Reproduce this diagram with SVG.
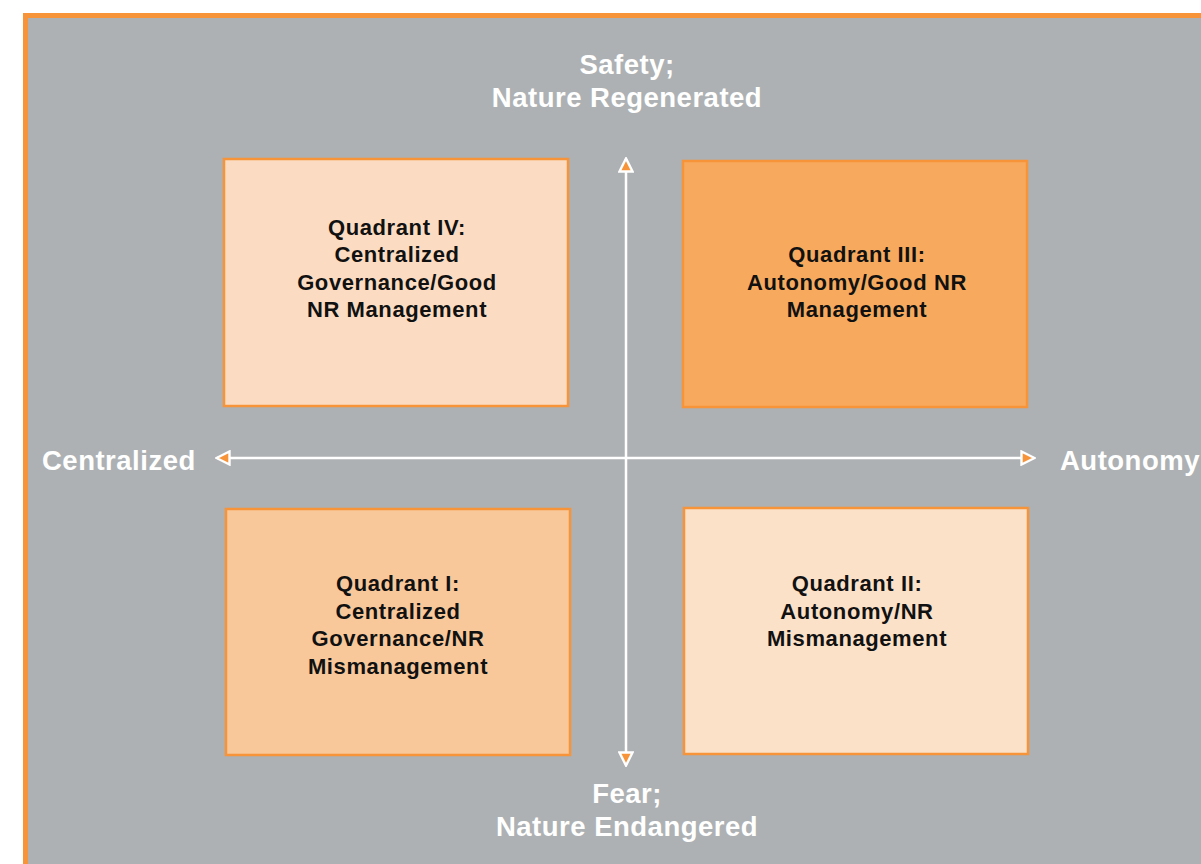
<svg xmlns="http://www.w3.org/2000/svg" width="1201" height="864" viewBox="0 0 1201 864">
<style>
.box{stroke:#F7943A;stroke-width:2.5}
.bt{font-family:"Liberation Sans",Arial,sans-serif;font-weight:bold;font-size:22px;letter-spacing:0.6px;fill:#111;text-anchor:middle}
.ax{font-family:"Liberation Sans",Arial,sans-serif;font-weight:bold;font-size:27.5px;letter-spacing:0.5px;fill:#ffffff}
.axl{stroke:#ffffff;stroke-width:2.5;fill:none}
</style>
<defs>
<marker id="ah" viewBox="0 0 16 16" refX="14" refY="8" markerWidth="16" markerHeight="16" markerUnits="userSpaceOnUse" orient="auto-start-reverse">
<path d="M1.5,1.5 L14.5,8 L1.5,14.5 Z" fill="#F7943A" stroke="#ffffff" stroke-width="2.4" stroke-linejoin="miter"/>
</marker>
</defs>
<rect x="0" y="0" width="1201" height="864" fill="#ffffff"/>
<rect x="25.5" y="15.5" width="1190" height="870" fill="#AEB1B3" stroke="#F7943A" stroke-width="5"/>
<g id="connectors">
<line class="axl" x1="626" y1="159" x2="626" y2="765" marker-start="url(#ah)" marker-end="url(#ah)"/>
<line class="axl" x1="217" y1="458" x2="1034" y2="458" marker-start="url(#ah)" marker-end="url(#ah)"/>
</g>
<g id="label-top">
<text class="ax" x="627" y="74" text-anchor="middle">Safety;</text>
<text class="ax" x="627" y="107" text-anchor="middle">Nature Regenerated</text>
</g>
<g id="label-bottom">
<text class="ax" x="627" y="803" text-anchor="middle">Fear;</text>
<text class="ax" x="627" y="836" text-anchor="middle">Nature Endangered</text>
</g>
<g id="label-left"><text class="ax" x="42" y="470">Centralized</text></g>
<g id="label-right"><text class="ax" x="1060" y="470">Autonomy</text></g>
<g id="q4">
<rect class="box" x="224" y="159" width="344" height="247" fill="#FBDCC2"/>
<text class="bt" x="397" y="235">Quadrant IV:</text>
<text class="bt" x="397" y="262">Centralized</text>
<text class="bt" x="397" y="290">Governance/Good</text>
<text class="bt" x="397" y="317">NR Management</text>
</g>
<g id="q3">
<rect class="box" x="683" y="161" width="344" height="246" fill="#F7AA5E"/>
<text class="bt" x="857" y="262">Quadrant III:</text>
<text class="bt" x="857" y="290">Autonomy/Good NR</text>
<text class="bt" x="857" y="317">Management</text>
</g>
<g id="q1">
<rect class="box" x="226" y="509" width="344" height="246" fill="#F8C89B"/>
<text class="bt" x="398" y="591">Quadrant I:</text>
<text class="bt" x="398" y="619">Centralized</text>
<text class="bt" x="398" y="646">Governance/NR</text>
<text class="bt" x="398" y="674">Mismanagement</text>
</g>
<g id="q2">
<rect class="box" x="684" y="508" width="344" height="246" fill="#FCE1C9"/>
<text class="bt" x="857" y="591">Quadrant II:</text>
<text class="bt" x="857" y="619">Autonomy/NR</text>
<text class="bt" x="857" y="646">Mismanagement</text>
</g>
</svg>
